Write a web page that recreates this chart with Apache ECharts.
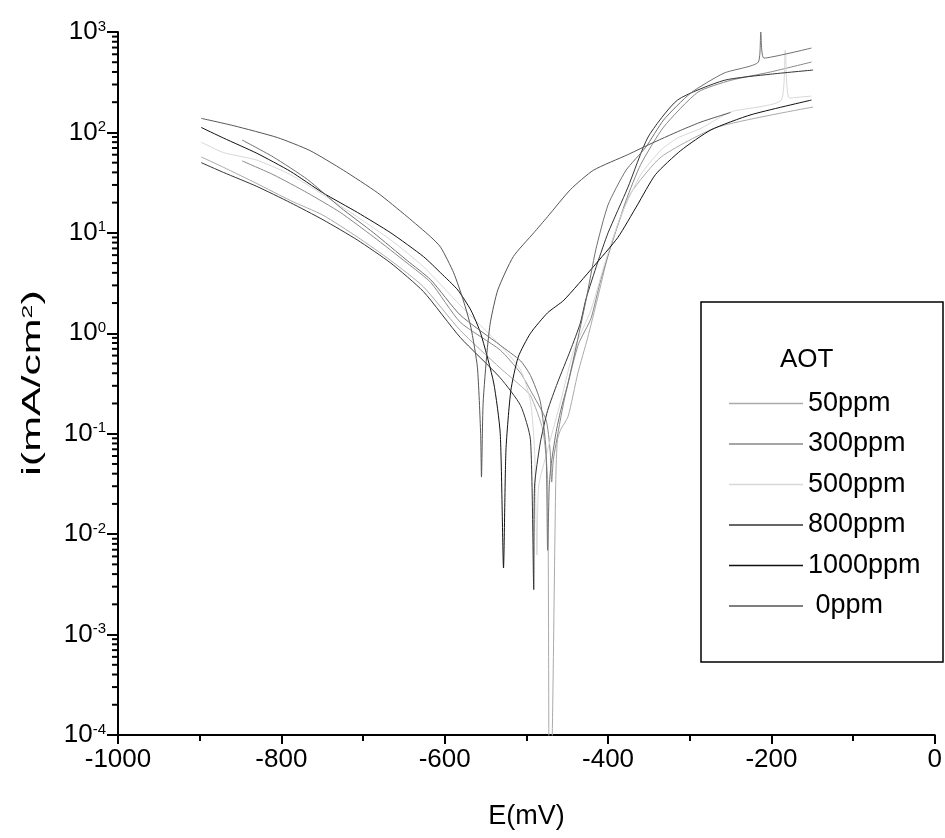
<!DOCTYPE html>
<html lang="en">
<head>
    <meta charset="UTF-8">
    <title>AOT polarization curves</title>
    <script src="https://cdn.jsdelivr.net/npm/echarts@6/dist/echarts.min.js"></script>
    <style>
        html, body { margin: 0; padding: 0; background: #fff; }
        #main { width: 945px; height: 838px; }
    </style>
</head>
<body>
    <div id="main"></div>
    <script>
        // [E (mV), i (mA/cm2)]
        var s0ppm = [[-898, 138], [-859, 117], [-805, 89], [-765, 66], [-724, 42], [-682, 25], [-646, 14.5], [-617, 9.1],
            [-605, 7.2], [-589, 4], [-577, 2.1], [-568, 1.15], [-560, 0.46], [-556, 0.1], [-555, 0.037], [-553, 0.2],
            [-548, 0.68], [-544, 1.3], [-535, 2.7], [-516, 5.8], [-491, 10], [-474, 14.5], [-446, 27], [-418, 42],
            [-376, 60], [-351, 75], [-311, 105], [-285, 128], [-250, 158]];
        var s1000ppm = [[-898, 112], [-871, 88], [-830, 62], [-789, 41], [-749, 25], [-707, 16], [-666, 10], [-626, 5.8],
            [-605, 4], [-584, 2.7], [-568, 1.7], [-556, 1.0], [-540, 0.32], [-532, 0.1], [-528, 0.0046], [-525, 0.069],
            [-519, 0.27], [-510, 0.58], [-495, 1.0], [-474, 1.6], [-454, 2.14], [-418, 4.6], [-388, 9], [-364, 19],
            [-342, 38], [-311, 66], [-274, 106], [-225, 150], [-151, 210]];
        var s800ppm = [[-898, 50], [-871, 40], [-830, 29], [-789, 20], [-749, 13.5], [-707, 8.5], [-666, 5], [-626, 2.6],
            [-581, 0.91], [-532, 0.36], [-507, 0.19], [-495, 0.087], [-491, 0.0028], [-490, 0.03], [-483, 0.081],
            [-474, 0.17], [-462, 0.32], [-446, 0.68], [-434, 1.26], [-427, 2.2], [-413, 5], [-400, 10], [-376, 28],
            [-351, 90], [-315, 210], [-258, 330], [-201, 380], [-149, 418]];
        var sExtra = [[-848, 84], [-810, 57], [-768, 34], [-728, 18], [-687, 10], [-646, 5.3], [-617, 3.4], [-581, 1.52],
            [-532, 0.76], [-507, 0.53], [-495, 0.38], [-483, 0.21], [-476, 0.069], [-474, 0.0069], [-472, 0.03],
            [-470, 0.047], [-464, 0.1], [-458, 0.17], [-449, 0.32], [-440, 0.68], [-427, 2.14], [-415, 6.8], [-400, 19],
            [-378, 42], [-354, 71], [-332, 133], [-299, 246], [-258, 390], [-216, 502], [-213, 1000], [-209, 550],
            [-151, 692]];
        var s500ppm = [[-898, 80], [-871, 63], [-830, 53], [-789, 38], [-749, 24], [-707, 14.4], [-666, 8.5], [-626, 4.6],
            [-581, 1.9], [-532, 0.76], [-507, 0.43], [-495, 0.21], [-490, 0.069], [-487, 0.0062], [-485, 0.03],
            [-474, 0.069], [-458, 0.21], [-442, 0.68], [-421, 1.7], [-403, 5.3], [-384, 15], [-360, 38], [-335, 67],
            [-315, 88], [-286, 110], [-250, 160], [-188, 210], [-183, 660], [-178, 220], [-151, 230]];
        var s50ppm = [[-898, 57], [-871, 45], [-830, 31], [-789, 21], [-749, 15], [-707, 9.1], [-666, 5.3], [-626, 2.9],
            [-581, 1.07], [-532, 0.45], [-507, 0.3], [-495, 0.24], [-480, 0.11], [-474, 0.035], [-472, 0.00003],
            [-470, 0.00003], [-464, 0.035], [-462, 0.087], [-458, 0.11], [-449, 0.148], [-437, 0.4], [-425, 0.9],
            [-413, 2.2], [-400, 6], [-388, 12], [-372, 25], [-335, 57], [-266, 113], [-149, 179]];
        var s300ppm = [[-848, 52], [-810, 38], [-768, 25], [-728, 16], [-687, 9.1], [-646, 5], [-617, 3.2], [-581, 1.29],
            [-532, 0.68], [-507, 0.4], [-495, 0.27], [-476, 0.138], [-471, 0.069], [-469, 0.033], [-467, 0.055],
            [-460, 0.117], [-454, 0.21], [-446, 0.4], [-436, 0.79], [-421, 1.4], [-409, 3.4], [-394, 8.5], [-378, 21],
            [-360, 48], [-332, 113], [-290, 252], [-250, 330], [-201, 400], [-151, 502]];

        var legendNames = ['50ppm', '300ppm', '500ppm', '800ppm', '1000ppm', ' 0ppm'];
        var minorTicksY = [];
        for (var k = -4; k < 3; k++) {
            for (var d = 2; d <= 9; d++) minorTicksY.push(d * Math.pow(10, k));
        }

        var font = 'Liberation Sans, Arial, sans-serif';
        var myChart = echarts.init(document.getElementById('main'));

        function curve(name, data, color) {
            return {
                name: name,
                type: 'line',
                data: data,
                showSymbol: false,
                symbol: 'none',
                smooth: 0.2,
                lineStyle: { color: color, width: 1 },
                itemStyle: { color: color },
                animation: false
            };
        }

        var option = {
            backgroundColor: '#fff',
            animation: false,
            grid: { left: 118, right: 10, top: 32, bottom: 103 },
            legend: {
                data: legendNames,
                orient: 'vertical',
                left: 724,
                top: 385,
                icon: 'rect',
                itemWidth: 74,
                itemHeight: 1.5,
                itemGap: 13.5,
                textStyle: { fontSize: 27, color: '#000', fontFamily: font, lineHeight: 24 }
            },
            graphic: [
                { type: 'rect', shape: { x: 701, y: 302, width: 242, height: 360 },
                  style: { fill: 'none', stroke: '#000', lineWidth: 1.5 }, z: 10 },
                { type: 'text', left: 780, top: 347,
                  style: { text: 'AOT', fontSize: 26, fill: '#000', fontFamily: font }, z: 10 },
                { type: 'text', x: 33, y: 383, rotation: Math.PI / 2, scaleX: 1.65,
                  style: {
                      text: 'i(mA/cm{s|2})', fontSize: 26, fill: '#000', fontFamily: font,
                      align: 'center', verticalAlign: 'middle',
                      rich: { s: { fontSize: 15, fill: '#000', fontFamily: font, verticalAlign: 'top' } }
                  }, z: 10 }
            ],
            xAxis: {
                type: 'value',
                min: -1000,
                max: 0,
                interval: 200,
                name: 'E(mV)',
                nameLocation: 'middle',
                nameGap: 68,
                nameTextStyle: { fontSize: 27, color: '#000', fontFamily: font },
                axisLine: { lineStyle: { color: '#000', width: 2 } },
                axisTick: { length: 9, lineStyle: { color: '#000', width: 2 } },
                minorTick: { show: true, splitNumber: 2, length: 6, lineStyle: { color: '#000', width: 2 } },
                axisLabel: {
                    fontSize: 26, color: '#000', fontFamily: font, margin: 12,
                    formatter: function (v) { return String(v); }
                },
                splitLine: { show: false }
            },
            yAxis: {
                type: 'log',
                logBase: 10,
                min: 0.0001,
                max: 1000,
                interval: 1,
                axisLine: { show: true, onZero: false, lineStyle: { color: '#000', width: 2 } },
                axisTick: { length: 11, lineStyle: { color: '#000', width: 2 } },
                axisLabel: {
                    margin: 12,
                    formatter: function (v) {
                        var e = Math.round(Math.log(v) / Math.LN10);
                        return '{a|10}{b|' + e + '}';
                    },
                    rich: {
                        a: { fontSize: 26, color: '#000', fontFamily: font },
                        b: { fontSize: 15, color: '#000', fontFamily: font, verticalAlign: 'top' }
                    }
                },
                splitLine: { show: false }
            },
            series: [
                curve('50ppm', s50ppm, '#aaaaaa'),
                curve('300ppm', s300ppm, '#888888'),
                curve('500ppm', s500ppm, '#d8d8d8'),
                curve('800ppm', s800ppm, '#333333'),
                curve('1000ppm', s1000ppm, '#111111'),
                curve(' 0ppm', s0ppm, '#555555'),
                curve('extra', sExtra, '#707070'),
                {
                    type: 'custom',
                    silent: true,
                    animation: false,
                    clip: false,
                    data: minorTicksY.map(function (v) { return [-1000, v]; }),
                    renderItem: function (params, api) {
                        var p = api.coord([api.value(0), api.value(1)]);
                        return {
                            type: 'line',
                            shape: { x1: p[0] - 6, y1: p[1], x2: p[0], y2: p[1] },
                            style: { stroke: '#000', lineWidth: 2 }
                        };
                    }
                }
            ]
        };
        myChart.setOption(option);
    </script>
</body>
</html>
